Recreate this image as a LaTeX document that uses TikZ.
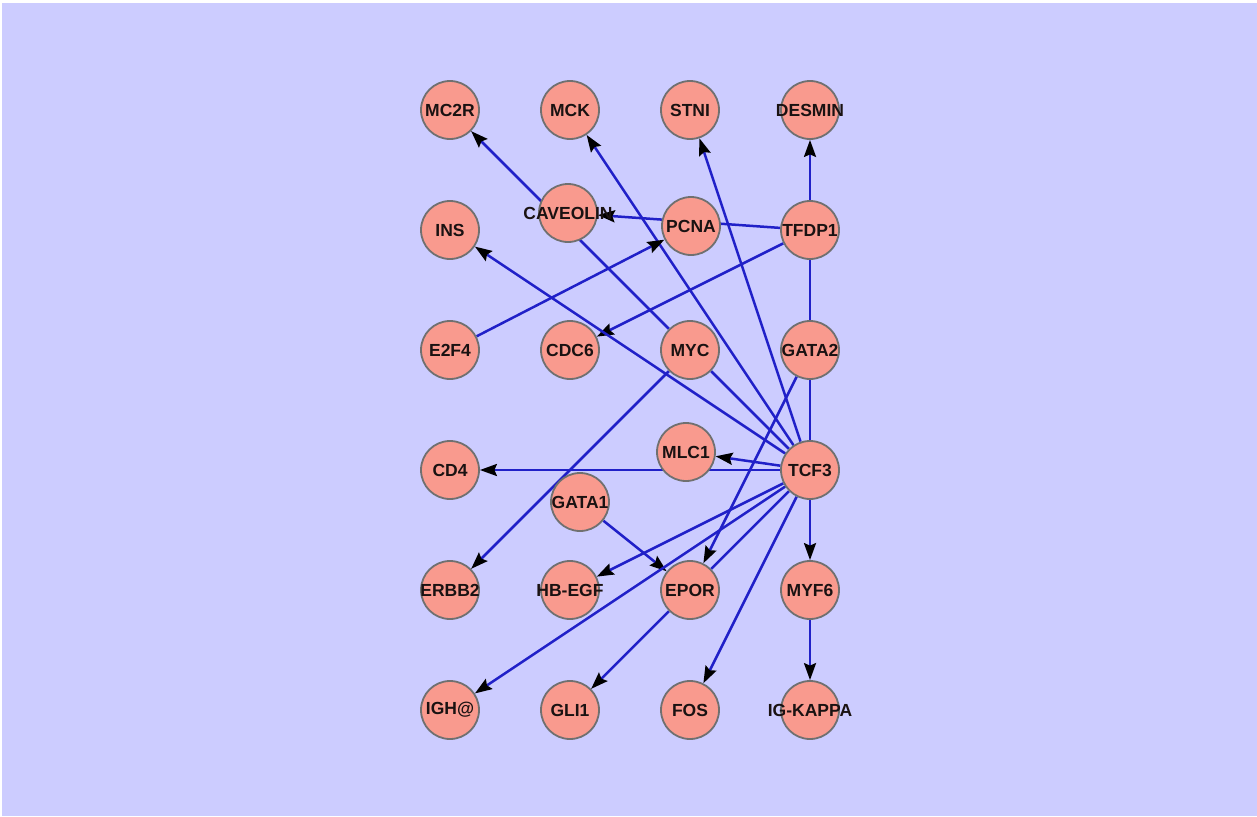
\documentclass[tikz,border=0pt]{standalone}
\usepackage{fontspec}
\setmainfont{Liberation Sans}
\usetikzlibrary{arrows.meta}
\definecolor{bgc}{HTML}{CCCCFF}
\definecolor{nodefill}{HTML}{F99A8E}
\definecolor{nodeedge}{HTML}{707070}
\definecolor{edgec}{HTML}{2020C8}
\definecolor{txtc}{HTML}{1A1212}
\pgfdeclarelayer{bg}
\pgfsetlayers{bg,main}
\begin{document}
\begin{tikzpicture}[x=1pt,y=-1pt,
  gene/.style={circle,fill=nodefill,draw=nodeedge,line width=1.8pt,minimum size=58pt,inner sep=0pt,
    font=\fontsize{17.5}{17.5}\selectfont\bfseries,text=txtc},
  rel/.style={draw=edgec,line width=2.5pt,-{Stealth[length=17pt,width=12pt,inset=2.5pt,color=black]}},
  link/.style={draw=edgec,line width=2.5pt}]
\useasboundingbox (0,0) rectangle (1257,816);
\begin{pgfonlayer}{bg}
\fill[white] (0,0) rectangle (1257,816);
\fill[bgc] (2,3) rectangle (1257,816);
\end{pgfonlayer}
\newcommand{\gn}[3]{\node[gene] (#1) at (#2) {\makebox[0pt][c]{#3}};}
\gn{mc2r}{450,110}{MC2R}
\gn{mck}{570,110}{MCK}
\gn{stni}{690,110}{STNI}
\gn{desmin}{810,110}{DESMIN}
\gn{ins}{450,230}{INS}
\gn{caveolin}{568,213}{CAVEOLIN}
\gn{pcna}{691,226}{PCNA}
\gn{tfdp1}{810,230}{TFDP1}
\gn{e2f4}{450,350}{E2F4}
\gn{cdc6}{570,350}{CDC6}
\gn{myc}{690,350}{MYC}
\gn{gata2}{810,350}{GATA2}
\gn{cd4}{450,470}{CD4}
\gn{mlc1}{686,452}{MLC1}
\gn{tcf3}{810,470}{TCF3}
\gn{gata1}{580,502}{GATA1}
\gn{erbb2}{450,590}{ERBB2}
\gn{hbegf}{570,590}{HB-EGF}
\gn{epor}{690,590}{EPOR}
\gn{myf6}{810,590}{MYF6}
\gn{igh}{450,710}{IGH@}
\gn{gli1}{570,710}{GLI1}
\gn{fos}{690,710}{FOS}
\gn{igkappa}{810,710}{IG-KAPPA}
\begin{pgfonlayer}{bg}
\draw[rel] (myc) -- (mc2r);
\draw[rel] (tcf3) -- (mck);
\draw[rel] (tcf3) -- (stni);
\draw[rel] (tfdp1) -- (desmin);
\draw[rel] (tfdp1) -- (caveolin);
\draw[rel] (e2f4) -- (pcna);
\draw[rel] (tfdp1) -- (cdc6);
\draw[rel] (tcf3) -- (ins);
\draw[link] (tfdp1) -- (gata2);
\draw[link] (gata2) -- (tcf3);
\draw[link] (myc) -- (tcf3);
\draw[rel] (myc) -- (erbb2);
\draw[rel] (gata2) -- (epor);
\draw[rel] (tcf3) -- (mlc1);
\draw[rel] (tcf3) -- (cd4);
\draw[rel] (gata1) -- (epor);
\draw[rel] (tcf3) -- (hbegf);
\draw[rel] (tcf3) -- (igh);
\draw[link] (epor) -- (tcf3);
\draw[rel] (tcf3) -- (fos);
\draw[rel] (epor) -- (gli1);
\draw[rel] (tcf3) -- (myf6);
\draw[rel] (myf6) -- (igkappa);
\end{pgfonlayer}
\end{tikzpicture}
\end{document}
